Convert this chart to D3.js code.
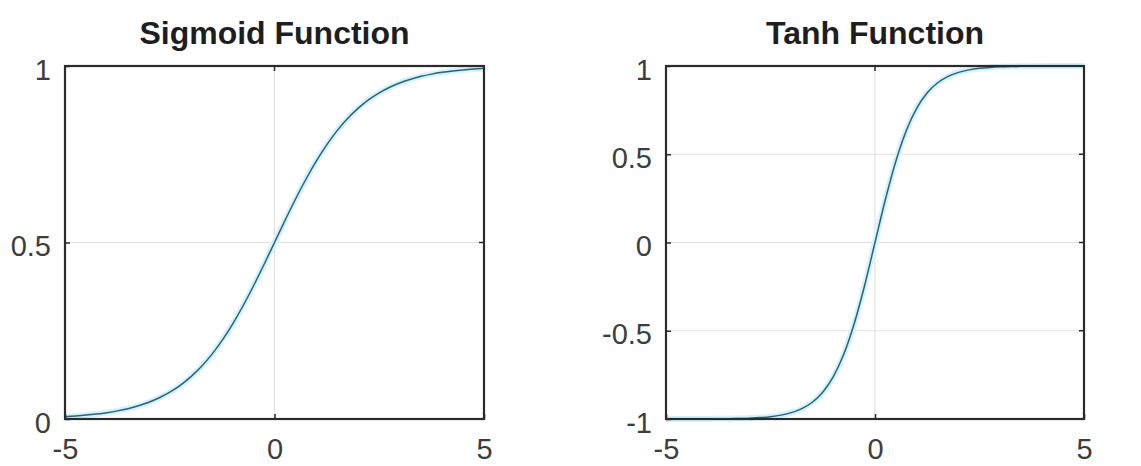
<!DOCTYPE html>
<html>
<head>
<meta charset="utf-8">
<script src="https://cdn.jsdelivr.net/npm/d3@7"></script>
<style>
  html, body { margin: 0; padding: 0; background: #ffffff; }
  svg { display: block; }
  text { font-family: "Liberation Sans", Arial, sans-serif; }
</style>
</head>
<body>
<svg id="chart" width="1141" height="466"></svg>
<script>
// ---- data ----
const xValues = [-5,-4.75,-4.5,-4.25,-4,-3.75,-3.5,-3.25,-3,-2.75,-2.5,-2.25,-2,-1.75,-1.5,-1.25,-1,-0.75,-0.5,-0.25,0,
                 0.25,0.5,0.75,1,1.25,1.5,1.75,2,2.25,2.5,2.75,3,3.25,3.5,3.75,4,4.25,4.5,4.75,5];
const sigmoidValues = [0.0067,0.0086,0.0110,0.0141,0.0180,0.0230,0.0293,0.0373,0.0474,0.0601,0.0759,0.0953,0.1192,0.1480,0.1824,0.2227,0.2689,0.3208,0.3775,0.4378,0.5,
                       0.5622,0.6225,0.6792,0.7311,0.7773,0.8176,0.8520,0.8808,0.9047,0.9241,0.9399,0.9526,0.9627,0.9707,0.9770,0.9820,0.9859,0.9890,0.9914,0.9933];
const tanhValues = [-0.9999,-0.9999,-0.9998,-0.9996,-0.9993,-0.9989,-0.9982,-0.9970,-0.9951,-0.9919,-0.9866,-0.9780,-0.9640,-0.9414,-0.9051,-0.8483,-0.7616,-0.6351,-0.4621,-0.2449,0,
                    0.2449,0.4621,0.6351,0.7616,0.8483,0.9051,0.9414,0.9640,0.9780,0.9866,0.9919,0.9951,0.9970,0.9982,0.9989,0.9993,0.9996,0.9998,0.9999,0.9999];
const titles = ["Sigmoid Function", "Tanh Function"];
const xTicks = [-5, 0, 5];
const sigmoidYTicks = [0, 0.5, 1];
const tanhYTicks = [-1, -0.5, 0, 0.5, 1];
const xTickLabels = ["-5", "0", "5"];
const sigmoidYTickLabels = ["0", "0.5", "1"];
const tanhYTickLabels = ["-1", "-0.5", "0", "0.5", "1"];

// ---- layout ----
const svg = d3.select("#chart");
const panels = [
  { left: 65, right: 484, top: 66, bottom: 419, title: titles[0], yDomain: [0, 1], values: sigmoidValues, yTicks: sigmoidYTicks, yLabels: sigmoidYTickLabels },
  { left: 666, right: 1084, top: 66, bottom: 419, title: titles[1], yDomain: [-1, 1], values: tanhValues, yTicks: tanhYTicks, yLabels: tanhYTickLabels }
];

const axisColor = "#2b2b2b";
const labelColor = "#3d3d3d";
const gridColor = "#e2e2e2";

panels.forEach(p => {
  const x = d3.scaleLinear().domain([-5, 5]).range([p.left, p.right]);
  const y = d3.scaleLinear().domain(p.yDomain).range([p.bottom, p.top]);
  const g = svg.append("g");

  // grid
  g.append("g").selectAll("line.gx").data(xTicks).join("line")
    .attr("x1", d => x(d)).attr("x2", d => x(d))
    .attr("y1", p.top).attr("y2", p.bottom)
    .attr("stroke", gridColor).attr("stroke-width", 1.2);
  g.append("g").selectAll("line.gy").data(p.yTicks).join("line")
    .attr("x1", p.left).attr("x2", p.right)
    .attr("y1", d => y(d)).attr("y2", d => y(d))
    .attr("stroke", gridColor).attr("stroke-width", 1.2);

  // curve
  const pts = xValues.map((xv, i) => [xv, p.values[i]]);
  const line = d3.line().x(d => x(d[0])).y(d => y(d[1])).curve(d3.curveMonotoneX);
  g.append("path").datum(pts).attr("d", line)
    .attr("fill", "none").attr("stroke", "#d2f3fc").attr("stroke-width", 6).attr("stroke-linejoin", "round");
  g.append("path").datum(pts).attr("d", line)
    .attr("fill", "none").attr("stroke", "#2f5f74").attr("stroke-width", 1.5).attr("stroke-linejoin", "round");

  // axes (MATLAB style: inward ticks, box)
  const xAxis = d3.axisBottom(x).tickValues(xTicks).tickSizeInner(-5).tickSizeOuter(0).tickFormat((d, i) => xTickLabels[i]).tickPadding(19);
  const yAxis = d3.axisLeft(y).tickValues(p.yTicks).tickSizeInner(-5).tickSizeOuter(0).tickFormat((d, i) => p.yLabels[i]).tickPadding(14);

  const gx = g.append("g").attr("transform", `translate(0,${p.bottom})`).call(xAxis);
  const gy = g.append("g").attr("transform", `translate(${p.left},0)`).call(yAxis);
  [gx, gy].forEach(a => {
    a.select(".domain").remove();
    a.selectAll(".tick line").attr("stroke", axisColor).attr("stroke-width", 1.5);
    a.selectAll(".tick text").attr("fill", labelColor).attr("font-size", 29)
      .attr("font-family", "Liberation Sans, Arial, sans-serif");
  });
  gx.selectAll(".tick text").attr("dy", "0.71em");
  gy.selectAll(".tick text").attr("dy", "0.45em");

  // right/top ticks
  g.append("g").selectAll("line").data(p.yTicks).join("line")
    .attr("x1", p.right - 5).attr("x2", p.right)
    .attr("y1", d => y(d)).attr("y2", d => y(d))
    .attr("stroke", axisColor).attr("stroke-width", 1.5);
  g.append("g").selectAll("line").data(xTicks).join("line")
    .attr("x1", d => x(d)).attr("x2", d => x(d))
    .attr("y1", p.top).attr("y2", p.top + 5)
    .attr("stroke", axisColor).attr("stroke-width", 1.5);

  // box
  g.append("rect").attr("x", p.left).attr("y", p.top)
    .attr("width", p.right - p.left).attr("height", p.bottom - p.top)
    .attr("fill", "none").attr("stroke", axisColor).attr("stroke-width", 2.2);

  // title
  g.append("text").attr("x", (p.left + p.right) / 2).attr("y", 44)
    .attr("text-anchor", "middle").attr("font-weight", "bold").attr("font-size", 32)
    .attr("fill", "#1e1e1e").text(p.title);
});
</script>
</body>
</html>
